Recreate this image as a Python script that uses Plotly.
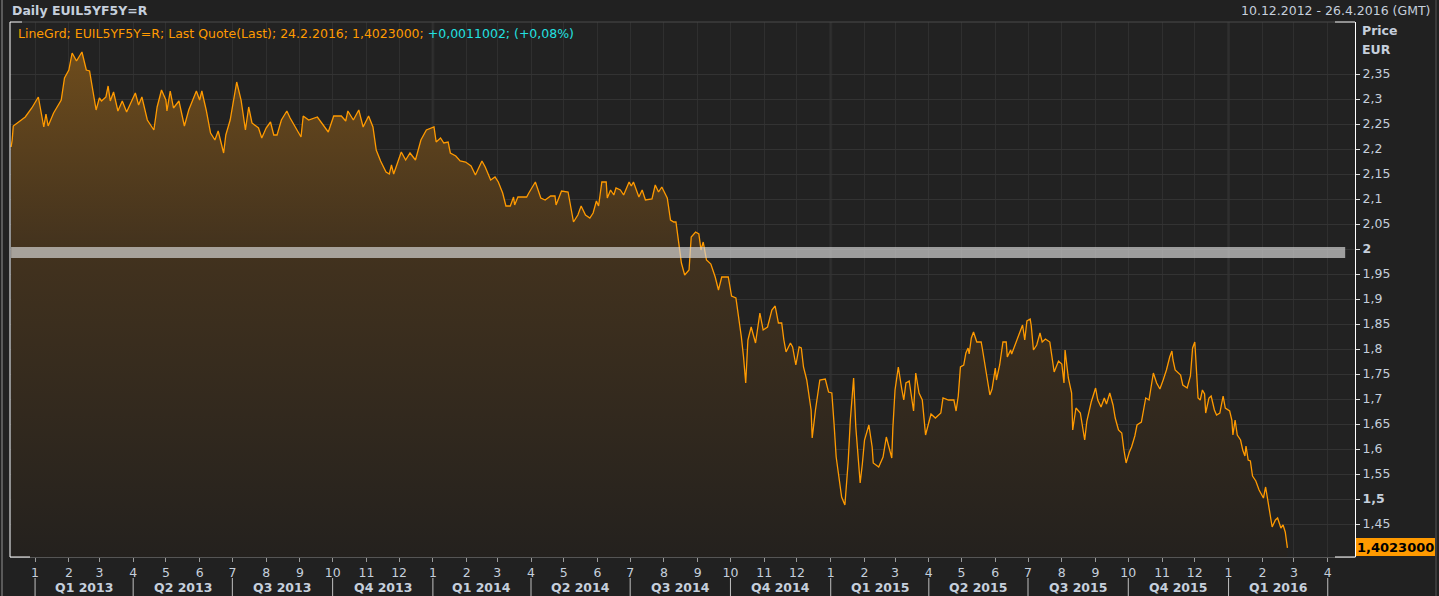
import plotly.graph_objects as go
import pandas as pd

# ---------------- data ----------------
dates = [
 "2012-12-10","2012-12-11","2012-12-12","2012-12-23","2012-12-29","2013-01-04","2013-01-09","2013-01-11","2013-01-13",
 "2013-01-18","2013-01-25","2013-01-28","2013-02-01","2013-02-04","2013-02-08","2013-02-13","2013-02-17","2013-02-20",
 "2013-02-22","2013-02-26","2013-03-01","2013-03-03","2013-03-07","2013-03-09","2013-03-11","2013-03-14","2013-03-18",
 "2013-03-22","2013-03-26","2013-04-03","2013-04-06","2013-04-09","2013-04-14","2013-04-20","2013-04-23","2013-04-27",
 "2013-05-01","2013-05-02","2013-05-05","2013-05-08","2013-05-13","2013-05-18","2013-05-22","2013-05-29","2013-06-01",
 "2013-06-03","2013-06-07","2013-06-11","2013-06-15","2013-06-18","2013-06-23","2013-06-25","2013-06-29","2013-07-03",
 "2013-07-05","2013-07-09","2013-07-11","2013-07-13","2013-07-16","2013-07-19","2013-07-25","2013-07-28","2013-08-01",
 "2013-08-05","2013-08-08","2013-08-11","2013-08-15","2013-08-20","2013-08-23","2013-08-29","2013-09-02","2013-09-04",
 "2013-09-09","2013-09-17","2013-09-22","2013-09-27","2013-10-02","2013-10-09","2013-10-13","2013-10-15","2013-10-20",
 "2013-10-25","2013-10-29","2013-11-03","2013-11-07","2013-11-10","2013-11-14","2013-11-19","2013-11-22","2013-11-24",
 "2013-11-26","2013-12-01","2013-12-03","2013-12-07","2013-12-11","2013-12-16","2013-12-21","2013-12-26",
 "2014-01-02","2014-01-04","2014-01-08","2014-01-11","2014-01-15","2014-01-17","2014-01-22","2014-01-26","2014-01-31",
 "2014-02-05","2014-02-09","2014-02-15","2014-02-18","2014-02-23","2014-02-27","2014-03-02","2014-03-06","2014-03-09",
 "2014-03-13","2014-03-16","2014-03-17","2014-03-20","2014-03-28","2014-03-30","2014-04-05","2014-04-10","2014-04-14",
 "2014-04-19","2014-04-23","2014-04-24","2014-04-29","2014-05-05","2014-05-10","2014-05-14","2014-05-17","2014-05-21",
 "2014-05-25","2014-05-28","2014-05-31","2014-06-02","2014-06-05","2014-06-09","2014-06-10","2014-06-13","2014-06-16",
 "2014-06-18","2014-06-22","2014-06-25","2014-06-30","2014-07-02","2014-07-04","2014-07-09","2014-07-12","2014-07-15",
 "2014-07-21","2014-07-24","2014-07-27","2014-07-30","2014-08-04","2014-08-07","2014-08-10","2014-08-12","2014-08-15",
 "2014-08-17","2014-08-20","2014-08-24","2014-08-26","2014-08-30","2014-09-02","2014-09-04","2014-09-06","2014-09-09",
 "2014-09-13","2014-09-17","2014-09-20","2014-09-23","2014-09-29","2014-10-02","2014-10-06","2014-10-08","2014-10-11",
 "2014-10-13","2014-10-15","2014-10-17","2014-10-20","2014-10-24","2014-10-28","2014-10-31","2014-11-04","2014-11-08",
 "2014-11-11","2014-11-14","2014-11-17","2014-11-19","2014-11-21","2014-11-25","2014-11-27","2014-11-30","2014-12-03",
 "2014-12-05","2014-12-07","2014-12-10","2014-12-12","2014-12-14","2014-12-15","2014-12-18","2014-12-22","2014-12-27",
 "2014-12-30","2015-01-02","2015-01-04","2015-01-06","2015-01-08","2015-01-10","2015-01-11","2015-01-14","2015-01-16",
 "2015-01-17","2015-01-19","2015-01-21","2015-01-22","2015-01-24","2015-01-27","2015-01-28","2015-01-30","2015-02-01",
 "2015-02-05","2015-02-08","2015-02-09","2015-02-14","2015-02-18","2015-02-21","2015-02-26","2015-02-27","2015-03-01",
 "2015-03-04","2015-03-07","2015-03-09","2015-03-11","2015-03-14","2015-03-18","2015-03-20","2015-03-23","2015-03-26",
 "2015-03-29","2015-04-03","2015-04-07","2015-04-12","2015-04-14","2015-04-19","2015-04-24","2015-04-26","2015-04-28",
 "2015-04-30","2015-05-03","2015-05-05","2015-05-07","2015-05-08","2015-05-10","2015-05-12","2015-05-15","2015-05-19",
 "2015-05-20","2015-05-23","2015-05-24","2015-05-27","2015-05-29","2015-06-01","2015-06-02","2015-06-05","2015-06-08",
 "2015-06-11","2015-06-12","2015-06-15","2015-06-16","2015-06-20","2015-06-22","2015-06-24","2015-06-26","2015-06-28",
 "2015-06-30","2015-07-03","2015-07-04","2015-07-06","2015-07-09","2015-07-12","2015-07-14","2015-07-17","2015-07-21",
 "2015-07-23","2015-07-25","2015-07-29","2015-08-01","2015-08-03","2015-08-04","2015-08-07","2015-08-10","2015-08-11",
 "2015-08-14","2015-08-18","2015-08-20","2015-08-22","2015-08-24","2015-08-28","2015-09-01","2015-09-03","2015-09-06",
 "2015-09-09","2015-09-11","2015-09-14","2015-09-17","2015-09-19","2015-09-22","2015-09-25","2015-09-27","2015-09-29",
 "2015-10-02","2015-10-04","2015-10-07","2015-10-09","2015-10-13","2015-10-15","2015-10-17","2015-10-20","2015-10-22",
 "2015-10-24","2015-10-27","2015-10-30","2015-11-02","2015-11-05","2015-11-08","2015-11-10","2015-11-11","2015-11-13",
 "2015-11-18","2015-11-20","2015-11-24","2015-11-27","2015-11-29","2015-12-01","2015-12-02","2015-12-04","2015-12-06",
 "2015-12-08","2015-12-10","2015-12-11","2015-12-14","2015-12-16","2015-12-19","2015-12-21","2015-12-24","2015-12-27",
 "2015-12-29","2016-01-02","2016-01-04","2016-01-05","2016-01-07","2016-01-09","2016-01-12","2016-01-14","2016-01-16",
 "2016-01-17","2016-01-19","2016-01-21","2016-01-23","2016-01-26","2016-01-29","2016-02-02","2016-02-04","2016-02-06",
 "2016-02-08","2016-02-10","2016-02-13","2016-02-15","2016-02-18","2016-02-20","2016-02-22","2016-02-24",
]
values = [
 2.204,2.218,2.246,2.264,2.282,2.304,2.244,2.270,2.246,
 2.272,2.298,2.342,2.358,2.392,2.376,2.394,2.358,2.356,
 2.330,2.278,2.302,2.296,2.304,2.326,2.296,2.314,2.276,
 2.296,2.274,2.312,2.288,2.304,2.258,2.238,2.284,2.318,
 2.298,2.276,2.316,2.282,2.296,2.246,2.278,2.316,2.298,
 2.316,2.278,2.232,2.218,2.236,2.192,2.228,2.258,2.312,
 2.334,2.298,2.264,2.238,2.284,2.252,2.242,2.222,2.242,
 2.254,2.228,2.228,2.258,2.276,2.262,2.238,2.224,2.266,
 2.258,2.264,2.248,2.234,2.266,2.266,2.256,2.276,2.258,
 2.278,2.244,2.266,2.244,2.198,2.176,2.154,2.150,2.168,
 2.150,2.184,2.194,2.178,2.192,2.178,2.218,2.238,
 2.244,2.214,2.222,2.212,2.214,2.192,2.186,2.176,2.174,
 2.166,2.148,2.176,2.164,2.138,2.144,2.134,2.112,2.086,
 2.086,2.104,2.088,2.104,2.104,2.112,2.134,2.102,2.098,
 2.106,2.106,2.088,2.116,2.114,2.054,2.068,2.086,2.068,
 2.062,2.072,2.096,2.086,2.134,2.134,2.102,2.118,2.108,
 2.122,2.118,2.108,2.134,2.126,2.134,2.104,2.118,2.098,
 2.100,2.128,2.114,2.124,2.102,2.058,2.054,2.054,2.004,
 1.972,1.948,1.958,2.024,2.034,2.030,1.998,2.014,1.978,
 1.970,1.944,1.918,1.944,1.944,1.906,1.902,1.872,1.824,
 1.784,1.732,1.818,1.844,1.812,1.872,1.838,1.844,1.878,
 1.886,1.852,1.852,1.818,1.794,1.812,1.804,1.768,1.804,
 1.802,1.764,1.738,1.704,1.678,1.622,1.678,1.738,1.740,
 1.714,1.712,1.652,1.584,1.552,1.524,1.504,1.488,1.538,
 1.574,1.658,1.712,1.742,1.644,1.572,1.532,1.570,1.618,
 1.648,1.604,1.572,1.564,1.584,1.624,1.582,1.642,1.718,
 1.764,1.722,1.698,1.732,1.736,1.676,1.752,1.712,1.698,
 1.628,1.670,1.662,1.672,1.702,1.698,1.698,1.676,1.706,
 1.764,1.768,1.792,1.802,1.790,1.822,1.834,1.814,1.814,
 1.802,1.764,1.754,1.708,1.720,1.762,1.738,1.768,1.814,
 1.814,1.784,1.798,1.790,1.814,1.826,1.836,1.848,1.818,
 1.856,1.860,1.846,1.798,1.808,1.832,1.814,1.820,1.814,
 1.784,1.754,1.776,1.770,1.732,1.798,1.742,1.712,1.638,
 1.682,1.672,1.648,1.618,1.656,1.694,1.722,1.698,1.684,
 1.702,1.690,1.712,1.688,1.662,1.638,1.632,1.598,1.572,
 1.594,1.604,1.626,1.648,1.654,1.682,1.702,1.698,1.724,
 1.752,1.732,1.720,1.738,1.758,1.784,1.796,1.778,1.758,
 1.748,1.728,1.722,1.746,1.802,1.814,1.778,1.702,1.698,
 1.718,1.710,1.672,1.702,1.706,1.678,1.668,1.672,1.706,
 1.682,1.676,1.658,1.628,1.658,1.628,1.618,1.598,1.586,
 1.606,1.578,1.576,1.546,1.536,1.518,1.502,1.524,1.498,
 1.478,1.444,1.458,1.462,1.442,1.448,1.434,1.4023,
]

y_ticks = [1.45,1.5,1.55,1.6,1.65,1.7,1.75,1.8,1.85,1.9,1.95,2.0,2.05,2.1,2.15,2.2,2.25,2.3,2.35]
y_ticktext = ["1,45","<b>1,5</b>","1,55","1,6","1,65","1,7","1,75","1,8","1,85","1,9","1,95","<b>2</b>",
              "2,05","2,1","2,15","2,2","2,25","2,3","2,35"]
month_ticks = list(pd.date_range("2013-01-01", "2016-04-01", freq="MS"))
month_labels = [str(d.month) for d in month_ticks]
quarter_starts = list(pd.date_range("2013-01-01", "2016-04-01", freq="QS"))
quarter_labels = ["Q1 2013","Q2 2013","Q3 2013","Q4 2013","Q1 2014","Q2 2014","Q3 2014","Q4 2014",
                  "Q1 2015","Q2 2015","Q3 2015","Q4 2015","Q1 2016"]
ref_level = 2.0
last_label = "1,4023000"

# ---------------- geometry helpers ----------------
W, H = 1439, 596
L, R, T, B = 10, 1355, 22, 557
def px(xp):  # pixel -> paper x
    return (xp - L) / (R - L)
def py(yp):  # pixel -> paper y
    return (B - yp) / (B - T)

FONT = "DejaVu Sans"
FS = 12.5
LBL = "#c5cfdc"
ORANGE = "#ff9a00"

fig = go.Figure()
fig.add_trace(go.Scatter(
    x=dates, y=values, mode="lines",
    line=dict(color=ORANGE, width=1.3),
    fill="tozeroy",
    fillgradient=dict(type="vertical", start=1.384, stop=2.40,
                      colorscale=[[0, "rgb(36,33,30)"], [0.6, "rgb(66,50,30)"], [1, "rgb(110,76,28)"]]),
    hoverinfo="skip", showlegend=False,
))

shapes = []
# horizontal reference band at 2
shapes.append(dict(type="rect", xref="x", yref="y", x0="2012-12-10", x1="2016-04-17",
                   y0=ref_level - 0.018, y1=ref_level + 0.004,
                   fillcolor="rgba(215,215,215,0.68)", line=dict(width=0), layer="above"))
# year separators (slightly stronger)
for yr in ["2014-01-01", "2015-01-01", "2016-01-01"]:
    shapes.append(dict(type="line", xref="x", yref="paper", x0=yr, x1=yr, y0=0, y1=1,
                       line=dict(color="#2c2c2c", width=3), layer="below"))
# quarter separators below axis
for q in quarter_starts:
    shapes.append(dict(type="line", xref="x", yref="paper", x0=q, x1=q, y0=py(578), y1=py(596),
                       line=dict(color="#c0c0c0", width=1)))
# frame: white left and right lines, corner markers, top line
shapes += [
    dict(type="line", xref="paper", yref="paper", x0=0, x1=0, y0=0, y1=1, line=dict(color="white", width=1)),
    dict(type="line", xref="paper", yref="paper", x0=0, x1=px(30), y0=0, y1=0, line=dict(color="white", width=1)),
    dict(type="line", xref="paper", yref="paper", x0=0, x1=px(22), y0=1, y1=1, line=dict(color="white", width=1)),
    dict(type="line", xref="paper", yref="paper", x0=px(22), x1=px(1335), y0=1, y1=1, line=dict(color="#4a4a4a", width=1)),
    dict(type="line", xref="paper", yref="paper", x0=px(1335), x1=1, y0=1, y1=1, line=dict(color="white", width=1)),
    dict(type="line", xref="paper", yref="paper", x0=px(1335), x1=1, y0=0, y1=0, line=dict(color="white", width=1)),
    dict(type="line", xref="paper", yref="paper", x0=px(2), x1=px(2), y0=py(596), y1=py(0), line=dict(color="#5a5a5a", width=2)),
    dict(type="line", xref="paper", yref="paper", x0=px(1436), x1=px(1436), y0=py(596), y1=py(0), line=dict(color="#3a3a3a", width=2)),
    # last value box
    dict(type="rect", xref="paper", yref="paper", x0=px(1356), x1=px(1435), y0=py(538), y1=py(556),
         fillcolor=ORANGE, line=dict(width=0)),
]

ann = []
ann.append(dict(xref="paper", yref="paper", x=px(10), y=py(11), xanchor="left", yanchor="middle",
                text="<b>Daily EUIL5YF5Y=R</b>", showarrow=False, font=dict(family=FONT, size=FS, color=LBL)))
ann.append(dict(xref="paper", yref="paper", x=px(1432), y=py(11), xanchor="right", yanchor="middle",
                text="10.12.2012 - 26.4.2016 (GMT)", showarrow=False, font=dict(family=FONT, size=FS, color=LBL)))
ann.append(dict(xref="paper", yref="paper", x=px(16), y=py(33), xanchor="left", yanchor="middle",
                text=("<span style='color:#ff9a00'>LineGrd; EUIL5YF5Y=R; Last Quote(Last); 24.2.2016; 1,4023000; </span>"
                      "<span style='color:#22e0e0'>+0,0011002; (+0,08%)</span>"),
                showarrow=False, font=dict(family=FONT, size=FS, color=ORANGE)))
ann.append(dict(xref="paper", yref="paper", x=px(1360), y=py(31), xanchor="left", yanchor="middle",
                text="<b>Price</b>", showarrow=False, font=dict(family=FONT, size=FS, color=LBL)))
ann.append(dict(xref="paper", yref="paper", x=px(1360), y=py(49), xanchor="left", yanchor="middle",
                text="<b>EUR</b>", showarrow=False, font=dict(family=FONT, size=FS, color=LBL)))
ann.append(dict(xref="paper", yref="paper", x=px(1395.5), y=py(547), xanchor="center", yanchor="middle",
                text="<b>" + last_label + "</b>", showarrow=False, font=dict(family=FONT, size=13, color="#000000")))
for i, q in enumerate(quarter_starts[:-1]):
    mid = q + (quarter_starts[i + 1] - q) / 2
    ann.append(dict(xref="x", yref="paper", x=mid, y=py(587), xanchor="center", yanchor="middle",
                    text="<b>" + quarter_labels[i] + "</b>", showarrow=False,
                    font=dict(family=FONT, size=FS, color=LBL)))

fig.update_layout(
    width=W, height=H,
    margin=dict(l=L, r=W - R, t=T, b=H - B, pad=0),
    paper_bgcolor="#212121", plot_bgcolor="#222222",
    font=dict(family=FONT, size=FS, color=LBL),
    shapes=shapes, annotations=ann, showlegend=False,
    hovermode=False,
    xaxis=dict(type="date", range=["2012-12-09", "2016-04-26"],
               tickvals=month_ticks, ticktext=month_labels,
               ticks="outside", ticklen=4, tickcolor="#9a9a9a",
               showgrid=True, gridcolor="#2f2f2f", gridwidth=1,
               showline=True, linecolor="#555555", linewidth=1,
               tickfont=dict(family=FONT, size=FS, color=LBL), zeroline=False),
    yaxis=dict(range=[1.384, 2.454], side="right",
               tickvals=y_ticks, ticktext=y_ticktext,
               ticks="outside", ticklen=4, tickcolor="#dddddd",
               showgrid=True, gridcolor="#333333", gridwidth=1,
               showline=True, linecolor="white", linewidth=1,
               tickfont=dict(family=FONT, size=FS, color=LBL), zeroline=False),
)

fig.write_html("out.html", config={"displayModeBar": False},
               post_script="document.body.style.margin='0';document.body.style.overflow='hidden';")
